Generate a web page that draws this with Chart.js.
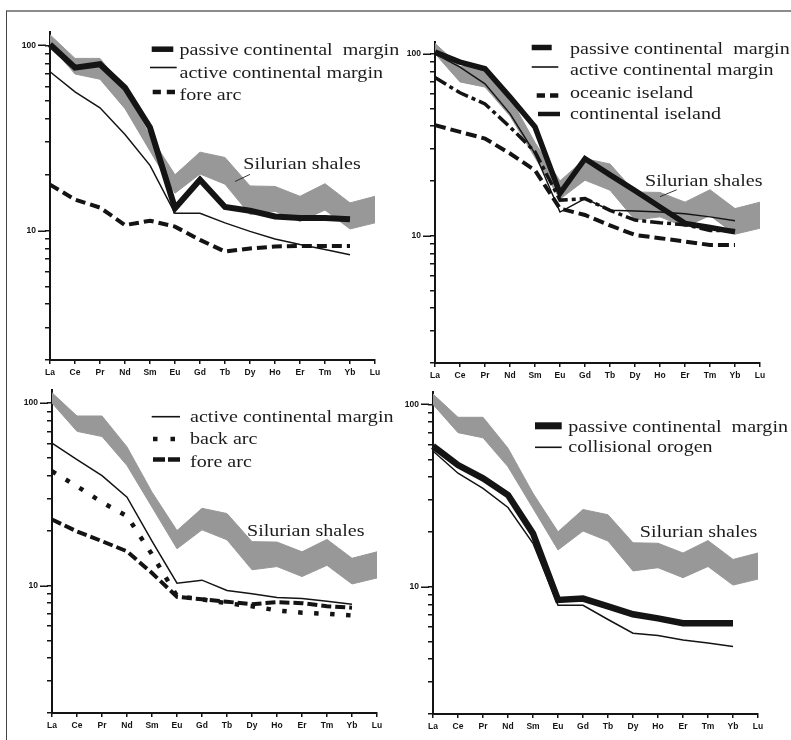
<!DOCTYPE html>
<html>
<head>
<meta charset="utf-8">
<script src="https://cdn.jsdelivr.net/npm/chart.js@4.4.1/dist/chart.umd.min.js"></script>
<style>
html,body{margin:0;padding:0;background:#fff;width:791px;height:740px;overflow:hidden;position:relative;}
#frame{position:absolute;left:6px;top:10px;width:820px;height:760px;border-top:2px solid #8c8c8c;border-left:1.5px solid #444;}
canvas{position:absolute;}
</style>
</head>
<body>
<div id="frame"></div>
<canvas id="c1" width="420" height="390" style="left:0px;top:0px"></canvas>
<canvas id="c2" width="406" height="390" style="left:385px;top:0px"></canvas>
<canvas id="c3" width="420" height="370" style="left:0px;top:370px"></canvas>
<canvas id="c4" width="406" height="370" style="left:385px;top:370px"></canvas>
<script>
// ---------- data ----------
const elements = ['La','Ce','Pr','Nd','Sm','Eu','Gd','Tb','Dy','Ho','Er','Tm','Yb','Lu'];
const yTickValues = [2,3,4,5,6,7,8,9,10,20,30,40,50,60,70,80,90,100];
const yLabelValues = [10,100];
const shaleLabel = 'Silurian shales';

// Silurian shales envelope (upper and lower edge of grey band)
const shaleUpper = [114,85,85,57.5,32.5,20,26.5,24.8,17.4,17.3,15.3,17.9,14.1,15.3];
const shaleLower = [100,70,65.6,45.5,26.9,15.9,20.2,17.8,12.2,12.7,11.2,12.9,10.2,11];

// panel A (top left)
const legendA = ['passive continental  margin','active continental margin','fore arc'];
const aPassive = [101,75.7,79,59,36,13.2,18.8,13.4,12.8,11.9,11.7,11.7,11.5];
const aActive  = [72,56,46,33,22.5,12.4,12.4,11,9.9,9.0,8.4,7.9,7.4];
const aForeArc = [17.7,14.7,13.3,10.7,11.3,10.5,8.9,7.7,8.0,8.2,8.25,8.25,8.25];

// panel B (top right)
const legendB = ['passive continental  margin','active continental margin','oceanic iseland','continental iseland'];
const bPassive     = [102,90,82.7,57.8,39.6,17.1,26.5,21.6,17.7,14.4,11.7,11.1,10.5];
const bActive      = [100,84.5,68.4,46.9,28.3,13.5,16,13.8,13.7,13.5,13.2,12.7,12.1];
const bOceanic     = [40.5,37.2,34.2,28.3,22.9,14.1,13,11.4,10.1,9.7,9.3,8.9,8.9];
const bContinental = [74,61,53,39.6,28.9,15.7,16,13.8,12.2,11.8,11.5,10.7,10.7];

// panel C (bottom left)
const legendC = ['active continental margin','back arc','fore arc'];
const cActive  = [60.4,49,40,30.5,17.5,10.3,10.7,9.4,9.0,8.6,8.5,8.2,7.9];
const cBackArc = [42.3,35,28.6,24,14.8,8.75,8.4,8.0,7.7,7.3,7.1,7.0,6.85];
const cForeArc = [23,19.8,17.5,15.4,11.7,8.67,8.4,8.15,7.9,8.1,8.0,7.7,7.55];

// panel D (bottom right)
const legendD = ['passive continental  margin','collisional orogen'];
const dPassive     = [59,46.5,39.3,31.8,19.6,8.45,8.6,7.8,7.05,6.7,6.3,6.3,6.3];
const dCollisional = [55.5,41.9,34.6,27.2,17.3,7.9,7.9,6.6,5.55,5.4,5.1,4.9,4.7];

// ---------- styling / layout ----------
const INK = '#141414';
const BAND = '#989898';
const TXT_FONT = '17px "Liberation Serif", "Times New Roman", serif';
const TXT_STRETCH = 1.18;

function stretchText(ctx, text, x, y) {
  ctx.save();
  ctx.translate(x, y);
  ctx.scale(TXT_STRETCH, 1);
  ctx.fillText(text, 0, 0);
  ctx.restore();
}

const decorPlugin = {
  id: 'decor',
  afterDraw(chart, args, o) {
    const ctx = chart.ctx, xs = chart.scales.x, ys = chart.scales.y, ca = chart.chartArea;
    ctx.save();
    // longer major ticks at 10 and 100
    ctx.strokeStyle = INK; ctx.lineWidth = 1.5;
    yLabelValues.forEach(v => {
      const y = Math.round(ys.getPixelForValue(v)) + 0.25;
      ctx.beginPath(); ctx.moveTo(ca.left - 12, y); ctx.lineTo(ca.left - 4, y); ctx.stroke();
    });
    // shale label
    ctx.fillStyle = '#1c1c1c';
    ctx.font = TXT_FONT;
    ctx.textBaseline = 'alphabetic';
    ctx.textAlign = 'left';
    const sh = o.shale;
    stretchText(ctx, shaleLabel, xs.getPixelForValue(sh.x), ys.getPixelForValue(sh.y));
    if (sh.leader) {
      ctx.strokeStyle = '#222'; ctx.lineWidth = 0.9;
      ctx.beginPath();
      ctx.moveTo(xs.getPixelForValue(sh.leader[0][0]), ys.getPixelForValue(sh.leader[0][1]));
      ctx.lineTo(xs.getPixelForValue(sh.leader[1][0]), ys.getPixelForValue(sh.leader[1][1]));
      ctx.stroke();
    }
    // legend
    const L = o.legend, ox = o.ox, oy = o.oy;
    L.rows.forEach(r => {
      ctx.fillStyle = '#1c1c1c';
      stretchText(ctx, r.label, L.textX - ox, r.base - oy);
      const s = r.sym;
      ctx.fillStyle = INK; ctx.strokeStyle = INK;
      if (s.type === 'rect') {
        ctx.fillRect(s.x1 - ox, s.y - s.h / 2 - oy, s.x2 - s.x1, s.h);
      } else if (s.type === 'line') {
        ctx.lineWidth = s.h;
        ctx.beginPath(); ctx.moveTo(s.x1 - ox, s.y - oy); ctx.lineTo(s.x2 - ox, s.y - oy); ctx.stroke();
      } else if (s.type === 'dashes') {
        const gap = (s.x2 - s.x1 - s.n * s.dl) / (s.n - 1);
        for (let i = 0; i < s.n; i++) {
          ctx.fillRect(s.x1 + i * (s.dl + gap) - ox, s.y - s.h / 2 - oy, s.dl, s.h);
        }
      }
    });
    ctx.restore();
  }
};

function lineDs(label, data, width, dash) {
  return {
    label, data,
    borderColor: INK, backgroundColor: INK,
    borderWidth: width, borderDash: dash || [],
    pointRadius: 0, fill: false, tension: 0, order: 1
  };
}

function makePanel(p) {
  const datasets = [
    { label: shaleLabel + ' max', data: shaleUpper, borderColor: BAND, borderWidth: 1, pointRadius: 0, fill: false, order: 10 },
    { label: shaleLabel + ' min', data: shaleLower, borderColor: BAND, backgroundColor: BAND, borderWidth: 1, pointRadius: 0, fill: '-1', order: 10 }
  ].concat(p.lines);
  new Chart(document.getElementById(p.id), {
    type: 'line',
    data: { labels: elements, datasets },
    options: {
      responsive: false, animation: false, devicePixelRatio: 1,
      layout: { padding: { left: 0, top: p.pt, right: p.pr, bottom: 0 } },
      elements: { line: { borderCapStyle: 'butt', borderJoinStyle: 'miter' } },
      plugins: {
        legend: { display: false },
        tooltip: { enabled: false },
        decor: { shale: p.shale, legend: p.legend, ox: p.left, oy: p.top }
      },
      scales: {
        x: {
          type: 'category', offset: false,
          grid: { drawOnChartArea: false, drawTicks: true, tickLength: 4, color: INK, lineWidth: 1.5 },
          border: { display: true, color: INK, width: 2 },
          ticks: { autoSkip: false, maxRotation: 0, padding: 4, color: INK,
                   font: { family: '"Liberation Sans", Arial, sans-serif', size: 8.5, weight: 'bold' } },
          afterFit: s => { s.height = p.xh; }
        },
        y: {
          type: 'logarithmic', min: 2, max: p.max,
          afterBuildTicks: s => { s.ticks = yTickValues.map(v => ({ value: v })); },
          grid: { drawOnChartArea: false, drawTicks: true, tickLength: 5, color: INK, lineWidth: 1.5 },
          border: { display: true, color: INK, width: 2 },
          ticks: { autoSkip: false, padding: 9, color: INK,
                   font: { family: '"Liberation Sans", Arial, sans-serif', size: 8.5, weight: 'bold' },
                   callback: v => (yLabelValues.includes(v) ? String(v) : '') },
          afterFit: s => { s.width = p.ylw; }
        }
      }
    },
    plugins: [decorPlugin]
  });
}

makePanel({
  id: 'c1', left: 0, top: 0, ylw: 50, pt: 32, pr: 45, xh: 30, max: 118,
  lines: [
    lineDs(legendA[0], aPassive, 6),
    lineDs(legendA[1], aActive, 1.5),
    lineDs(legendA[2], aForeArc, 4, [10, 5])
  ],
  shale: { x: 7.73, y: 21.4, leader: [[7.4, 18.4], [8.0, 20.1]] },
  legend: { textX: 179.5, rows: [
    { label: legendA[0], base: 54.5, sym: { type: 'rect', x1: 151.7, x2: 173.3, y: 49.2, h: 5.5 } },
    { label: legendA[1], base: 77.5, sym: { type: 'line', x1: 150, x2: 176.7, y: 67.5, h: 1.6 } },
    { label: legendA[2], base: 100, sym: { type: 'dashes', x1: 152.7, x2: 175, y: 92, h: 4.5, n: 2, dl: 8.2 } }
  ] }
});

makePanel({
  id: 'c2', left: 385, top: 0, ylw: 50, pt: 42, pr: 31, xh: 27, max: 116,
  lines: [
    lineDs(legendB[0], bPassive, 5.5),
    lineDs(legendB[1], bActive, 1.5),
    lineDs(legendB[2], bOceanic, 4, [11, 5]),
    lineDs(legendB[3], bContinental, 3.5, [13, 4, 4, 4])
  ],
  shale: { x: 8.4, y: 18.8, leader: [[9.0, 16.4], [9.67, 17.9]] },
  legend: { textX: 570, rows: [
    { label: legendB[0], base: 53.5, sym: { type: 'rect', x1: 531.7, x2: 551.7, y: 47.5, h: 5.5 } },
    { label: legendB[1], base: 74.5, sym: { type: 'line', x1: 531.7, x2: 558.3, y: 67, h: 1.6 } },
    { label: legendB[2], base: 98, sym: { type: 'dashes', x1: 536.7, x2: 558.3, y: 95.5, h: 4.5, n: 2, dl: 8.3 } },
    { label: legendB[3], base: 119, sym: { type: 'line', x1: 538, x2: 560, y: 114, h: 4.5 } }
  ] }
});

makePanel({
  id: 'c3', left: 0, top: 370, ylw: 52, pt: 20, pr: 43, xh: 27, max: 118,
  lines: [
    lineDs(legendC[0], cActive, 1.5),
    lineDs(legendC[1], cBackArc, 4.5, [4.5, 11.5]),
    lineDs(legendC[2], cForeArc, 4, [10, 4])
  ],
  shale: { x: 7.8, y: 18.8 },
  legend: { textX: 190, rows: [
    { label: legendC[0], base: 421.7, sym: { type: 'line', x1: 151.7, x2: 180, y: 416.7, h: 1.6 } },
    { label: legendC[1], base: 444, sym: { type: 'dashes', x1: 153, x2: 175, y: 439, h: 4.5, n: 2, dl: 4.5 } },
    { label: legendC[2], base: 466.7, sym: { type: 'dashes', x1: 153, x2: 180, y: 459.5, h: 4.5, n: 2, dl: 12 } }
  ] }
});

makePanel({
  id: 'c4', left: 385, top: 370, ylw: 48, pt: 22, pr: 33, xh: 26, max: 117,
  lines: [
    lineDs(legendD[0], dPassive, 6.5),
    lineDs(legendD[1], dCollisional, 1.5)
  ],
  shale: { x: 8.27, y: 18.8 },
  legend: { textX: 568.3, rows: [
    { label: legendD[0], base: 431.7, sym: { type: 'rect', x1: 535, x2: 561.7, y: 425.8, h: 7 } },
    { label: legendD[1], base: 451.7, sym: { type: 'line', x1: 535, x2: 561.7, y: 447.3, h: 1.6 } }
  ] }
});
</script>
</body>
</html>
